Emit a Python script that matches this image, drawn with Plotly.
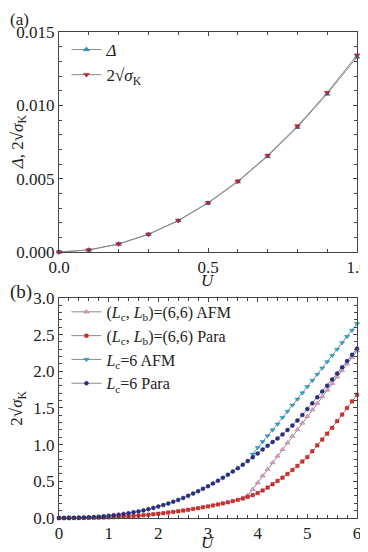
import plotly.graph_objects as go

# Panel (a): small-U gap vs 2 sqrt(sigma_K)
u_a = [0.0, 0.1, 0.2, 0.3, 0.4, 0.5, 0.6, 0.7, 0.8, 0.9, 1.0]
delta_a = [0.0, 0.00014, 0.00054, 0.00120, 0.00213, 0.00333, 0.00479, 0.00652, 0.00851, 0.01077, 0.01330]
sigma_a = [0.0, 0.00014, 0.00055, 0.00121, 0.00215, 0.00336, 0.00483, 0.00658, 0.00859, 0.01087, 0.01342]

# Panel (b): 2 sqrt(sigma_K) vs U, step 0.1
u_b = [round(0.1 * i, 1) for i in range(61)]
lc6_para = [
    0.0, 0.0, 0.001, 0.002, 0.004, 0.006, 0.009, 0.013, 0.018, 0.024, 0.031,
    0.038, 0.046, 0.055, 0.065, 0.077, 0.090, 0.104, 0.120, 0.137, 0.156,
    0.176, 0.198, 0.222, 0.247, 0.274, 0.303, 0.333, 0.365, 0.398, 0.433,
    0.470, 0.508, 0.548, 0.590, 0.634, 0.680, 0.727, 0.776, 0.827, 0.880,
    0.935, 0.985, 1.035, 1.085, 1.140, 1.200, 1.260, 1.330, 1.405, 1.485,
    1.565, 1.645, 1.725, 1.805, 1.890, 1.970, 2.055, 2.140, 2.225, 2.310,
]
lclb_para = [
    0.0, 0.0, 0.0, 0.001, 0.001, 0.002, 0.003, 0.004, 0.005, 0.007, 0.009,
    0.012, 0.015, 0.018, 0.022, 0.027, 0.032, 0.038, 0.044, 0.051, 0.058,
    0.066, 0.074, 0.083, 0.092, 0.102, 0.112, 0.123, 0.134, 0.146, 0.158,
    0.171, 0.185, 0.199, 0.214, 0.230, 0.247, 0.266, 0.287, 0.312, 0.340,
    0.375, 0.415, 0.460, 0.505, 0.550, 0.600, 0.655, 0.710, 0.770, 0.830,
    0.910, 0.990, 1.070, 1.150, 1.230, 1.320, 1.410, 1.500, 1.590, 1.680,
]
u_lclb_afm = [3.7, 3.8, 3.9, 4.0, 4.1, 4.2, 4.3, 4.4, 4.5, 4.6, 4.7, 4.8,
              4.9, 5.0, 5.1, 5.2, 5.3, 5.4, 5.5, 5.6, 5.7, 5.8, 5.9, 6.0]
lclb_afm = [0.270, 0.310, 0.390, 0.480, 0.575, 0.665, 0.755, 0.845, 0.935, 1.025, 1.115, 1.205,
            1.295, 1.385, 1.475, 1.565, 1.655, 1.745, 1.835, 1.925, 2.010, 2.100, 2.190, 2.280]
u_lc6_afm = [3.9, 4.0, 4.1, 4.2, 4.3, 4.4, 4.5, 4.6, 4.7, 4.8, 4.9, 5.0,
             5.1, 5.2, 5.3, 5.4, 5.5, 5.6, 5.7, 5.8, 5.9, 6.0]
lc6_afm = [0.870, 0.960, 1.040, 1.120, 1.200, 1.280, 1.370, 1.455, 1.540, 1.620, 1.705, 1.790,
           1.875, 1.960, 2.045, 2.130, 2.215, 2.300, 2.390, 2.475, 2.560, 2.650]

SERIF = "Liberation Serif, Times New Roman, serif"
TXT = "#222"
LINE = dict(color="#8a8a8a", width=1)
SIG = "2√<i>σ</i><sub>K</sub>"
LCLB = "(<i>L</i><sub>c</sub>, <i>L</i><sub>b</sub>)=(6,6)"

fig = go.Figure()

fig.add_trace(go.Scatter(
    x=u_a, y=delta_a, name="<i>Δ</i>", mode="lines+markers", line=LINE,
    marker=dict(symbol="triangle-up", size=5, color="#1e9bd7",
                line=dict(color="#2a4a7a", width=0.5)),
    xaxis="x", yaxis="y", legend="legend", cliponaxis=False,
))
fig.add_trace(go.Scatter(
    x=u_a, y=sigma_a, name=SIG, mode="lines+markers", line=LINE,
    marker=dict(symbol="triangle-down", size=5, color="#d8202c",
                line=dict(color="#7a1a2a", width=0.5)),
    xaxis="x", yaxis="y", legend="legend", cliponaxis=False,
))

fig.add_trace(go.Scatter(
    x=u_lclb_afm, y=lclb_afm, name=LCLB + " AFM", mode="lines+markers", line=LINE,
    marker=dict(symbol="triangle-up", size=4.5, color="#e8a2cc",
                line=dict(color="#a0608a", width=0.5)),
    xaxis="x2", yaxis="y2", legend="legend2", cliponaxis=False,
))
fig.add_trace(go.Scatter(
    x=u_b, y=lclb_para, name=LCLB + " Para", mode="lines+markers", line=LINE,
    marker=dict(symbol="square", size=3.5, color="#e02a2a",
                line=dict(color="#8a1a1a", width=0.4)),
    xaxis="x2", yaxis="y2", legend="legend2", cliponaxis=False,
))
fig.add_trace(go.Scatter(
    x=u_lc6_afm, y=lc6_afm, name="<i>L</i><sub>c</sub>=6 AFM", mode="lines+markers", line=LINE,
    marker=dict(symbol="triangle-down", size=4.5, color="#22aad8",
                line=dict(color="#1a6a8a", width=0.4)),
    xaxis="x2", yaxis="y2", legend="legend2", cliponaxis=False,
))
fig.add_trace(go.Scatter(
    x=u_b, y=lc6_para, name="<i>L</i><sub>c</sub>=6 Para", mode="lines+markers", line=LINE,
    marker=dict(symbol="circle", size=4, color="#26308a",
                line=dict(color="#141a50", width=0.4)),
    xaxis="x2", yaxis="y2", legend="legend2", cliponaxis=False,
))


def axis_style(dtick, minor_dtick, fmt, rng):
    return dict(
        range=rng, dtick=dtick, tick0=0, tickformat=fmt, automargin=False,
        showline=True, linecolor="#444", linewidth=1, mirror="ticks",
        ticks="inside", ticklen=4, tickcolor="#444", tickwidth=1,
        minor=dict(ticks="inside", dtick=minor_dtick, ticklen=3, tickcolor="#444"),
        showgrid=False, zeroline=False,
        tickfont=dict(family=SERIF, size=17, color=TXT),
    )


xa = axis_style(0.5, 0.1, ".1f", [0, 1])
xa.update(domain=[0, 1], anchor="y")
ya = axis_style(0.005, 0.001, ".3f", [0, 0.015])
ya.update(domain=[0.5473, 1], anchor="x")
xb = axis_style(1, 0.2, "d", [0, 6])
xb.update(domain=[0, 1], anchor="y2")
yb = axis_style(0.5, 0.1, ".1f", [0, 3])
yb.update(domain=[0, 0.4527], anchor="x2")


def label(text, x, y, size=17, angle=0, xanchor="center", yanchor="middle"):
    return dict(text=text, x=x, y=y, xref="paper", yref="paper", showarrow=False,
                xanchor=xanchor, yanchor=yanchor, textangle=angle,
                font=dict(family=SERIF, size=size, color=TXT))


# page body adds an 8px offset, so the figure is 8px smaller than the window
fig.update_layout(
    width=360, height=544,
    margin=dict(l=51, r=11, t=24, b=34),
    paper_bgcolor="white", plot_bgcolor="white",
    font=dict(family=SERIF, size=17, color=TXT),
    xaxis=xa, yaxis=ya, xaxis2=xb, yaxis2=yb,
    legend=dict(x=0.025, y=1.0, xanchor="left", yanchor="top", bgcolor="rgba(0,0,0,0)",
                font=dict(family=SERIF, size=17, color=TXT), tracegroupgap=0, itemsizing="trace"),
    legend2=dict(x=0.025, y=0.459, xanchor="left", yanchor="top", bgcolor="rgba(0,0,0,0)",
                 font=dict(family=SERIF, size=16, color=TXT), tracegroupgap=0, itemsizing="trace"),
    annotations=[
        label("(a)", -0.171, 1.049, size=17, xanchor="left", yanchor="top"),
        label("(b)", -0.171, 0.464, size=19, xanchor="left"),
        label("<i>U</i>", 0.5, 0.4897),
        label("<i>U</i>", 0.5, -0.0514),
        label("<i>Δ</i>, " + SIG, -0.136, 0.774, angle=-90),
        label(SIG, -0.136, 0.226, angle=-90),
    ],
)

fig.write_html("out.html")
